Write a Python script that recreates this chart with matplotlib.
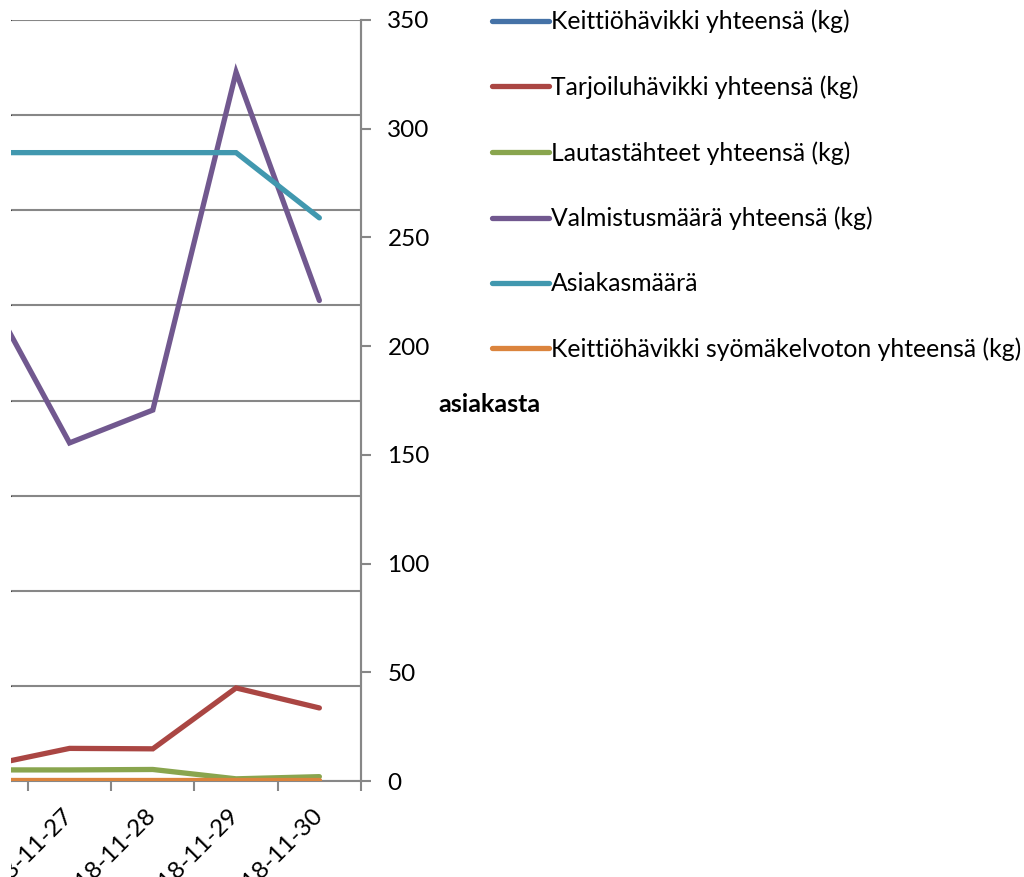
import matplotlib.pyplot as plt
import matplotlib.ticker as ticker
import numpy as np
from matplotlib.patches import Rectangle

plt.rcParams['font.family'] = ['Lato', 'DejaVu Sans']

## data (first day is mostly outside the crop)
dates = ["2018-11-26", "2018-11-27", "2018-11-28", "2018-11-29", "2018-11-30"]
keittio = [0.0, 0.0, 0.0, 0.0, 0.0]
tarjoilu = [7.0, 15.0, 14.8, 42.8, 33.6]
lautas = [5.1, 5.1, 5.3, 1.0, 2.0]
valmistus = [226, 155.5, 170.6, 326, 221]
asiakas = [289, 289, 289, 289, 259]
syomakelvoton = [0.4, 0.4, 0.4, 0.4, 0.4]

series_names = ["Keittiöhävikki yhteensä (kg)", "Tarjoiluhävikki yhteensä (kg)",
                "Lautastähteet yhteensä (kg)", "Valmistusmäärä yhteensä (kg)",
                "Asiakasmäärä", "Keittiöhävikki syömäkelvoton yhteensä (kg)"]
series = [keittio, tarjoilu, lautas, valmistus, asiakas, syomakelvoton]
colors = ["#4572A7", "#AA4643", "#89A54E", "#71588F", "#4198AF", "#DB843D"]

right_ticks = [0, 50, 100, 150, 200, 250, 300, 350]

W, H = 1024, 877
fig = plt.figure(figsize=(W / 100, H / 100), dpi=100)
ax = fig.add_axes([11 / W, 1 - 781 / H, (361 - 11) / W, (781 - 20) / H])

x = np.arange(len(dates))
handles = []
for vals, name, col in zip(series, series_names, colors):
    h, = ax.plot(x, vals, color=col, lw=3.8, solid_capstyle='round',
                 solid_joinstyle='miter', label=name, zorder=3)
    handles.append(h)

grey = "#878787"
ax.set_ylim(0, 350)
ax.set_yticks(np.linspace(0, 350, 9))
ax.yaxis.grid(True, color=grey, lw=1.5)
ax.tick_params(axis='y', left=False, labelleft=False)
ax.set_xticks(x)
ax.set_xticklabels(dates, rotation=45, ha='right', va='center', rotation_mode='anchor')
ax.xaxis.set_minor_locator(ticker.FixedLocator(np.arange(0.5, 5, 1)))
ax.tick_params(axis='x', which='major', length=0, pad=22, labelsize=17.5)
ax.tick_params(axis='x', which='minor', length=7, width=1.5, color=grey, direction='out')
for s in ['top', 'left']:
    ax.spines[s].set_visible(False)
for s in ['bottom', 'right']:
    ax.spines[s].set_color(grey)
    ax.spines[s].set_linewidth(1.5)

ax2 = ax.twinx()
ax2.set_ylim(0, 350)
ax2.set_yticks(right_ticks)
ax2.tick_params(axis='y', length=7, width=1.5, color=grey, pad=12, labelsize=17.5)
for s in ['top', 'left', 'bottom']:
    ax2.spines[s].set_visible(False)
ax2.spines['right'].set_color(grey)
ax2.spines['right'].set_linewidth(1.5)
ax.set_xlim(0.297, 4.5)

fig.text(438 / W, 1 - 405 / H, "asiakasta", fontsize=18, fontweight='bold', va='center', ha='left')

fig.legend(handles=handles, loc='upper left', bbox_to_anchor=(482 / W, 1.0),
           frameon=False, fontsize=17.8, handlelength=2.3, handletextpad=0.1,
           labelspacing=1.70, borderaxespad=0)

# left edge of the source picture is blank
fig.patches.append(Rectangle((0, 0), 11 / W, 1, transform=fig.transFigure,
                             facecolor='white', edgecolor='none', zorder=10))

fig.savefig("out.png", dpi=100)
